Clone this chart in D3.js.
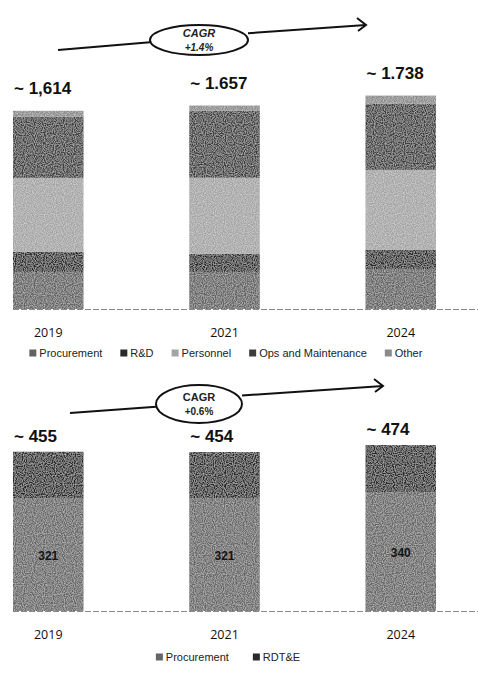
<!DOCTYPE html>
<html>
<head>
<meta charset="utf-8">
<script src="https://cdn.jsdelivr.net/npm/d3@7"></script>
<style>
  body { margin: 0; background: #fff; }
  svg { display: block; font-family: "Liberation Sans", Arial, sans-serif; }
</style>
</head>
<body>
<script>
// top chart - total budget by category
var years = ["2019", "2021", "2024"];
var topKeys = ["Procurement", "R&D", "Personnel", "Ops and Maintenance", "Other"];
var procurement = [302, 302, 326];
var rnd = [163, 147, 155];
var personnel = [603, 620, 652];
var opsMaint = [497, 546, 538];
var other = [49, 42, 67];
var topTotals = ["~ 1,614", "~ 1.657", "~ 1.738"];
var topCagr = ["CAGR", "+1.4%"];

// bottom chart - investment
var botKeys = ["Procurement", "RDT&E"];
var invProcurement = [321, 321, 340];
var rdte = [134, 133, 134];
var botTotals = ["~ 455", "~ 454", "~ 474"];
var botCagr = ["CAGR", "+0.6%"];

var W = 478, H = 673;
var svg = d3.select("body").append("svg").attr("width", W).attr("height", H);

// light grain, like the scanned original
var defs = svg.append("defs");
var f = defs.append("filter").attr("id", "grain").attr("x", 0).attr("y", 0).attr("width", 1).attr("height", 1);
f.append("feTurbulence").attr("type", "fractalNoise").attr("baseFrequency", 0.9).attr("numOctaves", 1).attr("seed", 3).attr("result", "n");
f.append("feColorMatrix").attr("in", "n").attr("type", "matrix")
  .attr("values", "0 0 0 0 1  0 0 0 0 1  0 0 0 0 1  0.9 0 0 0 -0.32").attr("result", "spots");
f.append("feComposite").attr("in", "spots").attr("in2", "SourceGraphic").attr("operator", "in").attr("result", "sp");
f.append("feMerge").call(function(m) {
  m.append("feMergeNode").attr("in", "SourceGraphic");
  m.append("feMergeNode").attr("in", "sp");
});

var x = d3.scaleBand().domain(years).range([13, 436]).paddingInner(0.6).paddingOuter(0);

function drawChart(g, keys, series, colors, yScale, totals, cagr, cfg) {
  var rows = years.map(function(yr, i) {
    var r = { year: yr };
    keys.forEach(function(k, j) { r[k] = series[j][i]; });
    return r;
  });
  var stacked = d3.stack().keys(keys)(rows);
  var base = yScale(0);

  // baseline
  g.append("line")
    .attr("x1", x(years[0])).attr("x2", W)
    .attr("y1", base + 0.5).attr("y2", base + 0.5)
    .attr("stroke", "#8a8a8a").attr("stroke-width", 1)
    .attr("stroke-dasharray", "6,2");

  g.selectAll("g.layer").data(stacked).enter().append("g")
    .attr("class", "layer")
    .attr("fill", function(d, i) { return colors[i]; })
    .selectAll("rect").data(function(d) { return d; }).enter().append("rect")
    .attr("x", function(d) { return x(d.data.year); })
    .attr("y", function(d) { return yScale(d[1]); })
    .attr("width", x.bandwidth())
    .attr("height", function(d) { return yScale(d[0]) - yScale(d[1]); })
    .attr("filter", "url(#grain)");

  if (cfg.segLabels) {
    g.selectAll("text.seg").data(stacked[0]).enter().append("text")
      .attr("class", "seg")
      .attr("x", function(d) { return x(d.data.year) + x.bandwidth() / 2; })
      .attr("y", function(d) { return (yScale(d[0]) + yScale(d[1])) / 2 + 5; })
      .attr("text-anchor", "middle")
      .attr("font-size", 12).attr("font-weight", "bold").attr("fill", "#151515")
      .text(function(d) { return d[1] - d[0]; });
  }

  var tops = stacked[stacked.length - 1];
  g.selectAll("text.total").data(tops).enter().append("text")
    .attr("class", "total")
    .attr("x", function(d) { return x(d.data.year) + 1; })
    .attr("y", function(d) { return yScale(d[1]) - cfg.labelGap; })
    .attr("font-size", 17).attr("font-weight", "bold").attr("fill", "#111")
    .text(function(d, i) { return totals[i]; });

  // year labels
  g.selectAll("text.year").data(years).enter().append("text")
    .attr("class", "year")
    .attr("x", function(d) { return x(d) + x.bandwidth() / 2; })
    .attr("y", base + cfg.yearGap)
    .attr("text-anchor", "middle")
    .attr("font-family", "'Open Sans', sans-serif")
    .attr("font-size", 12.5).attr("fill", "#111")
    .text(function(d) { return d; });

  // legend
  var leg = g.append("g").attr("transform", "translate(0," + (base + cfg.legendGap) + ")");
  var items = leg.selectAll("g").data(keys).enter().append("g");
  items.append("rect").attr("width", 7).attr("height", 7).attr("y", -7.5)
    .attr("fill", function(d, i) { return colors[i]; });
  items.append("text").attr("x", 10).attr("y", 0)
    .attr("font-size", 11).attr("fill", "#222")
    .text(function(d) { return d; });
  var pos, widths = [];
  items.each(function() { widths.push(this.getBBox().width); });
  var total = d3.sum(widths) + cfg.legendSpace * (keys.length - 1);
  pos = cfg.legendCenter - total / 2;
  items.attr("transform", function(d, i) {
    var t = "translate(" + pos + ",0)";
    pos += widths[i] + cfg.legendSpace;
    return t;
  });

  // CAGR arrow
  var cx = cfg.cagr[0], cy = cfg.cagr[1], rx = cfg.cagr[2], ry = cfg.cagr[3];
  var a = g.append("g");
  a.append("line").attr("x1", cfg.arrowFrom[0]).attr("y1", cfg.arrowFrom[1])
    .attr("x2", cx - rx).attr("y2", cy + ry * 0.15)
    .attr("stroke", "#111").attr("stroke-width", 2);
  a.append("line").attr("x1", cx + rx).attr("y1", cy - ry * 0.45)
    .attr("x2", cfg.arrowTo[0]).attr("y2", cfg.arrowTo[1])
    .attr("stroke", "#111").attr("stroke-width", 2);
  var tx = cfg.arrowTo[0], ty = cfg.arrowTo[1];
  a.append("path")
    .attr("d", "M" + (tx - 9) + "," + (ty - 7) + " L" + tx + "," + ty + " L" + (tx - 8) + "," + (ty + 6))
    .attr("fill", "none").attr("stroke", "#111").attr("stroke-width", 2);
  a.append("ellipse").attr("cx", cx).attr("cy", cy).attr("rx", rx).attr("ry", ry)
    .attr("fill", "#fff").attr("stroke", "#111").attr("stroke-width", 2);
  a.append("text").attr("x", cx).attr("y", cy - 3).attr("text-anchor", "middle")
    .attr("font-size", 11).attr("font-weight", "bold").attr("font-style", cfg.italic ? "italic" : "normal")
    .attr("fill", "#222").text(cagr[0]);
  a.append("text").attr("x", cx).attr("y", cy + 11).attr("text-anchor", "middle")
    .attr("font-size", 10).attr("font-weight", "bold").attr("font-style", cfg.italic ? "italic" : "normal")
    .attr("fill", "#222").text(cagr[1]);
}

var yTop = d3.scaleLinear().domain([0, 1800]).range([309, 88]);
drawChart(svg.append("g"), topKeys, [procurement, rnd, personnel, opsMaint, other],
  ["#626262", "#2a2a2a", "#a4a4a4", "#3c3c3c", "#8a8a8a"], yTop, topTotals, topCagr,
  { labelGap: 17, yearGap: 28, legendGap: 48, legendCenter: 226, legendSpace: 18,
    cagr: [199, 40, 49, 15], arrowFrom: [58, 50], arrowTo: [366, 25], italic: true, segLabels: false });

var yBot = d3.scaleLinear().domain([0, 500]).range([611, 436]);
drawChart(svg.append("g"), botKeys, [invProcurement, rdte],
  ["#666666", "#2a2a2a"], yBot, botTotals, botCagr,
  { labelGap: 10, yearGap: 28, legendGap: 50, legendCenter: 228, legendSpace: 24,
    cagr: [199, 404, 43, 19], arrowFrom: [70, 413], arrowTo: [383, 386], italic: false, segLabels: true });
</script>
</body>
</html>
